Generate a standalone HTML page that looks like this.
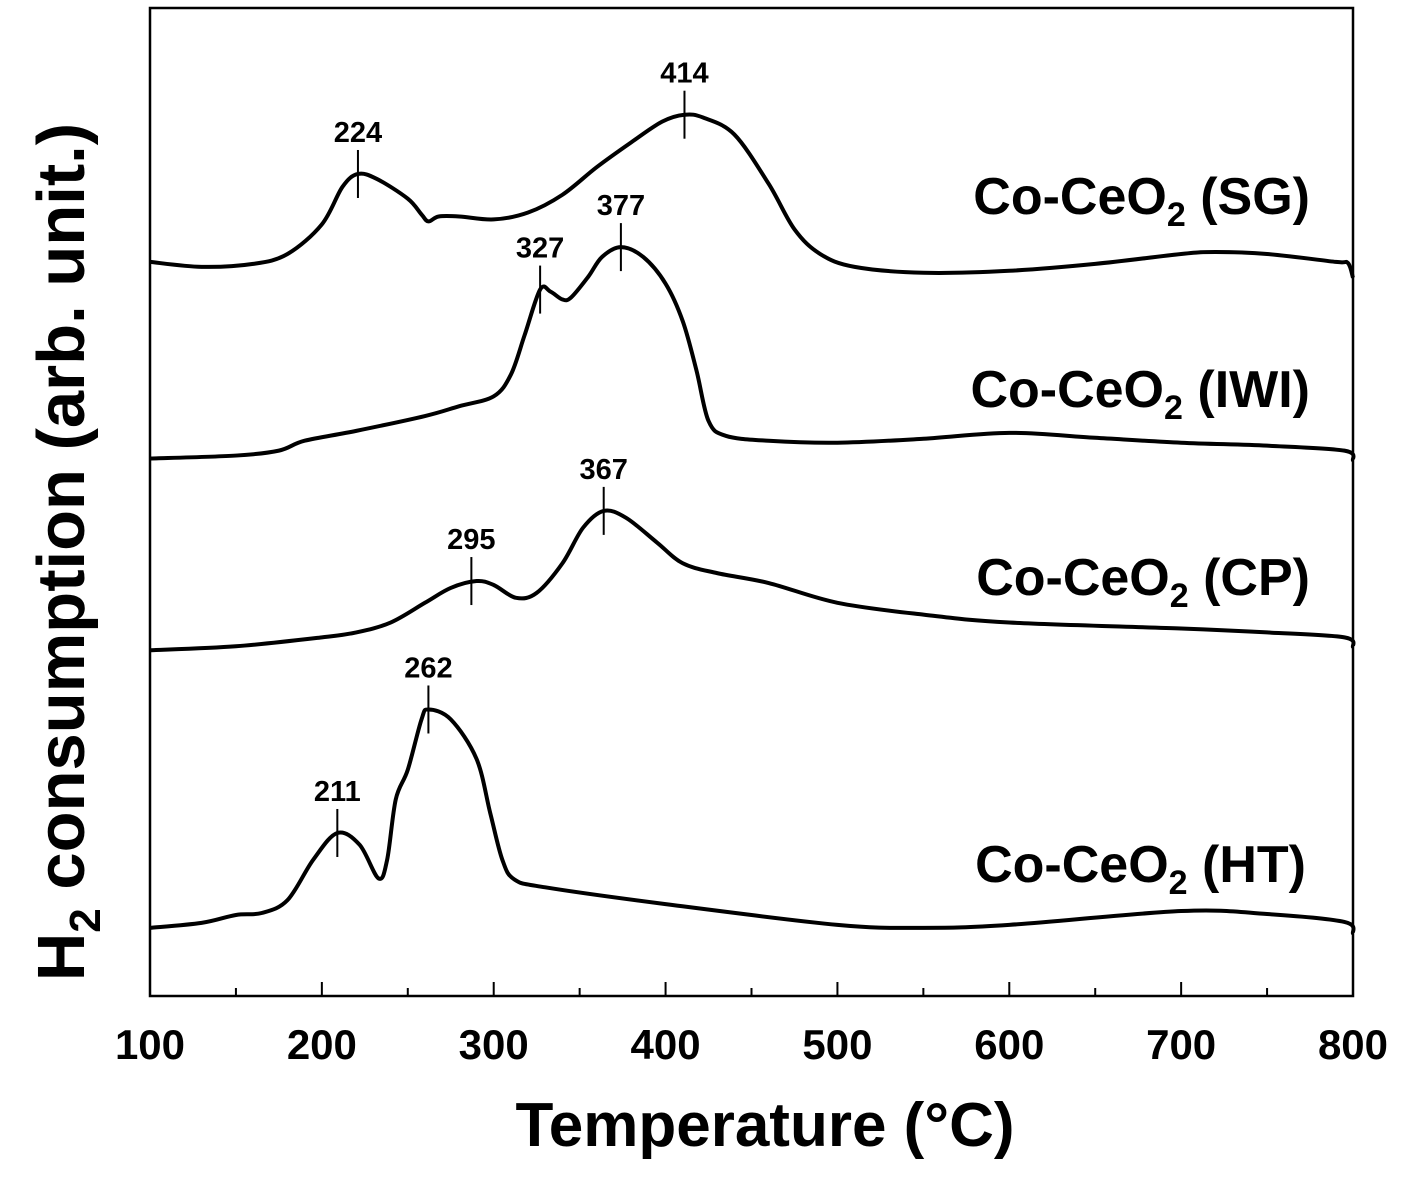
<!DOCTYPE html>
<html><head><meta charset="utf-8"><style>
body{margin:0;background:#fff}
svg{display:block;font-family:"Liberation Sans",Arial,sans-serif;font-weight:bold}
</style></head><body>
<svg id="chart" width="1411" height="1182" viewBox="0 0 1411 1182">
<rect x="150" y="8" width="1203" height="988" fill="none" stroke="#000" stroke-width="2.5"/>
<g id="ticks"></g><g id="curves"></g><g id="peaks"></g>
<text x="765" y="1146" font-size="62" text-anchor="middle">Temperature (°C)</text>
<text transform="translate(84,552) rotate(-90)" font-size="67" text-anchor="middle">H<tspan font-size="44" dy="16">2</tspan><tspan dy="-16"> consumption (arb. unit.)</tspan></text>
<text x="1310" y="214" font-size="52" text-anchor="end">Co-CeO<tspan font-size="34" dy="12">2</tspan><tspan dy="-12"> (SG)</tspan></text>
<text x="1310" y="407" font-size="52" text-anchor="end">Co-CeO<tspan font-size="34" dy="12">2</tspan><tspan dy="-12"> (IWI)</tspan></text>
<text x="1310" y="595" font-size="52" text-anchor="end">Co-CeO<tspan font-size="34" dy="12">2</tspan><tspan dy="-12"> (CP)</tspan></text>
<text x="1306" y="882" font-size="52" text-anchor="end">Co-CeO<tspan font-size="34" dy="12">2</tspan><tspan dy="-12"> (HT)</tspan></text>
</svg>
<script>
const xTicks=[100,200,300,400,500,600,700,800];
const sgT=[100,130,160,180,200,212,221,232,250,258,262,268,280,300,320,340,360,380,398,411,422,440,460,475,490,510,550,600,650,700,720,750,790,797,800];
const sgV=[74.3,73.8,74.1,75.1,78.1,81.9,83.2,82.7,80.7,79.1,78.4,78.9,78.9,78.6,79.3,81.1,83.9,86.4,88.5,89.2,88.9,87.2,82.2,77.6,75.1,73.8,73.2,73.4,74.1,75.1,75.3,75.1,74.3,74.2,72.7];
const iwiT=[100,150,175,190,220,260,280,300,310,318,327,333,340,345,355,363,374,387,400,410,418,425,435,460,500,550,600,650,700,750,795,800];
const iwiV=[54.4,54.7,55.2,56.2,57.2,58.7,59.7,60.7,62.9,66.9,71.5,71.3,70.5,70.7,72.8,74.8,75.8,74.8,72.1,68.3,63.3,58.2,56.7,56.2,56.0,56.4,57.0,56.5,56.0,55.7,55.2,54.2];
const cpT=[100,150,200,220,240,260,275,290,300,313,325,340,352,364,377,395,410,430,460,500,550,600,700,750,795,800];
const cpV=[35.0,35.4,36.3,36.8,37.8,39.8,41.3,42.0,41.6,40.3,40.8,43.8,47.4,49.1,48.4,45.9,43.8,42.8,41.8,39.8,38.6,37.8,37.2,36.8,36.3,35.3];
const htT=[100,130,150,165,180,195,209,222,233,238,243,250,258,262,275,290,298,305,312,330,400,500,550,600,700,750,795,800];
const htV=[6.9,7.4,8.2,8.4,9.7,13.8,16.5,15.3,11.9,13.8,19.9,22.9,28.0,29.0,28.0,24.0,18.5,13.8,11.8,11.0,9.3,7.2,6.9,7.2,8.6,8.3,7.5,6.3];
const peakT=[221,411,327,374,287,364,209,262];
const peakV=[83.2,89.2,71.5,75.8,42.0,49.1,16.5,29.0];
const peakLbl=["224","414","327","377","295","367","211","262"];
const NS="http://www.w3.org/2000/svg";
const X=t=>150+(t-100)*1203/700;
const Y=v=>996-v*9.88;
function mk(tag,attrs,parent){const e=document.createElementNS(NS,tag);for(const k in attrs)e.setAttribute(k,attrs[k]);parent.appendChild(e);return e;}
const tg=document.getElementById('ticks');
for(let t=100;t<=800;t+=50){
  const major=(t%100===0);
  const l=mk('line',{x1:X(t),x2:X(t),y1:996,y2:996-(major?14:8),stroke:'#000','stroke-width':2},tg);
  
  
}
xTicks.forEach(t=>{
  const tx=mk('text',{x:X(t),y:1059,'font-size':42,'text-anchor':'middle'},tg);
  tx.textContent=t;
  
  
});
function path(T,V){
  const p=T.map((t,i)=>[X(t),Y(V[i])]);
  let d='M'+p[0][0]+','+p[0][1];
  for(let i=0;i<p.length-1;i++){
    const p0=p[i-1]||p[i],p1=p[i],p2=p[i+1],p3=p[i+2]||p2;
    const c1=[p1[0]+(p2[0]-p0[0])/6,p1[1]+(p2[1]-p0[1])/6];
    const c2=[p2[0]-(p3[0]-p1[0])/6,p2[1]-(p3[1]-p1[1])/6];
    d+=` C${c1[0]},${c1[1]} ${c2[0]},${c2[1]} ${p2[0]},${p2[1]}`;
  }
  return d;
}
const cg=document.getElementById('curves');
[[sgT,sgV,'curve-sg'],[iwiT,iwiV,'curve-iwi'],[cpT,cpV,'curve-cp'],[htT,htV,'curve-ht']].forEach(s=>{
  const e=mk('path',{d:path(s[0],s[1]),fill:'none',stroke:'#000','stroke-width':4},cg);
  
  
});
const pg=document.getElementById('peaks');
peakT.forEach((t,i)=>{
  const x=X(t),y=Y(peakV[i]);
  const l=mk('line',{x1:x,x2:x,y1:y-24,y2:y+24,stroke:'#000','stroke-width':2},pg);
  
  
  const tx=mk('text',{x:x,y:y-32,'font-size':29,'text-anchor':'middle'},pg);
  tx.textContent=peakLbl[i];
  
  
});
</script>
</body></html>
